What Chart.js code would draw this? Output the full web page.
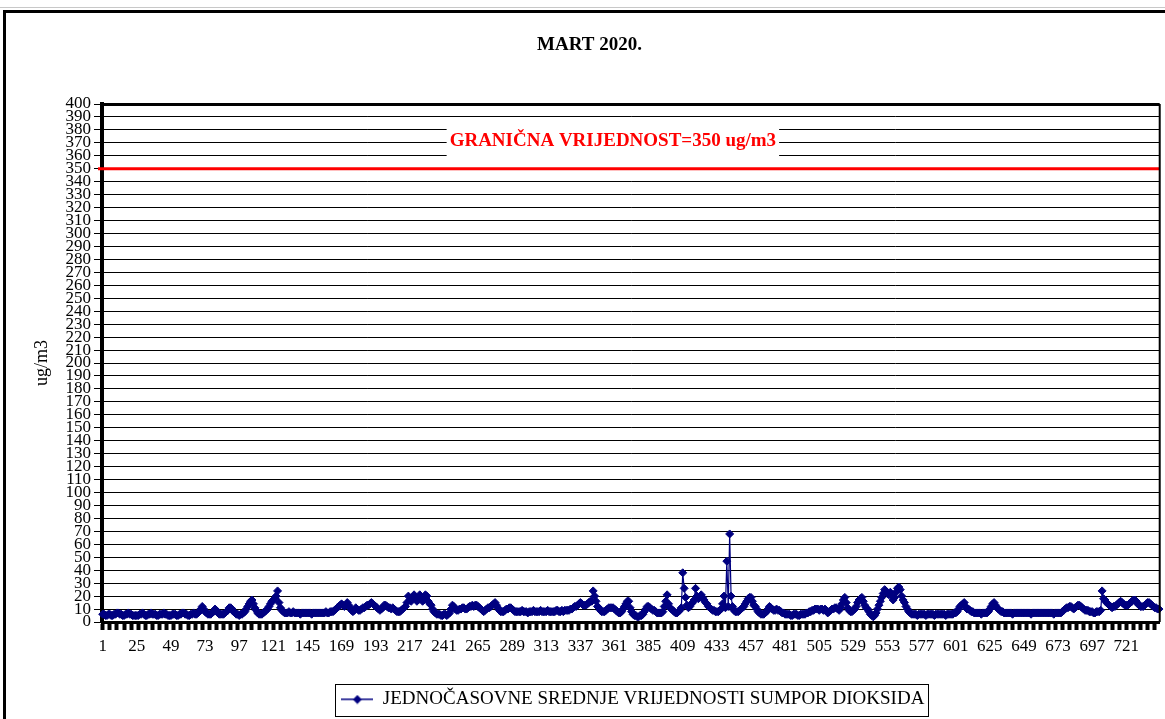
<!DOCTYPE html>
<html><head><meta charset="utf-8">
<script src="https://cdn.jsdelivr.net/npm/chart.js@4.4.1/dist/chart.umd.min.js"></script>
<style>
html,body{margin:0;padding:0;background:#fff;width:1165px;height:719px;overflow:hidden;}
#frame{position:absolute;left:3px;top:10px;width:1200px;height:800px;border:3px solid #000;box-sizing:border-box;}
#topline{position:absolute;left:0;top:7px;width:1165px;height:1px;background:#c8c8c8;}
canvas{position:absolute;left:0;top:0;}
</style></head><body>
<div id="topline"></div>
<div id="frame"></div>
<canvas id="c" width="1165" height="719"></canvas>
<script>
const TITLE = 'MART 2020.';
const SERIES_NAME = 'JEDNOČASOVNE SREDNJE VRIJEDNOSTI SUMPOR DIOKSIDA';
const Y_TITLE = 'ug/m3';
const LIMIT_VALUE = 350;
const LIMIT_LABEL = 'GRANIČNA VRIJEDNOST=350 ug/m3';
const Y_MIN = 0, Y_MAX = 400, Y_STEP = 10;
const X_LABEL_EVERY = 24;
const hours = Array.from({length: 744}, (_, i) => String(i + 1));
const so2 = [
  6,6,5,5,6,6,5,5,6,6,7,7,6,6,5,5,6,6,7,6,6,5,5,5,
  5,5,6,6,7,6,5,5,6,6,7,6,6,6,5,5,6,6,6,7,6,6,5,5,
  5,6,6,6,5,5,6,6,7,7,6,6,5,5,6,6,7,6,6,7,8,10,12,10,
  8,7,6,6,6,7,8,10,9,7,6,6,6,6,7,8,9,11,11,10,8,7,6,6,
  5,6,6,7,8,10,12,14,16,17,14,11,9,7,6,6,6,7,8,9,10,12,14,16,
  17,18,20,24,15,11,9,8,7,7,7,8,7,7,8,7,7,7,7,6,7,7,7,7,
  7,7,7,6,7,7,7,7,7,7,7,7,7,8,7,7,8,8,8,9,10,11,12,13,
  14,13,12,13,15,13,11,9,8,9,11,10,9,9,10,11,11,12,13,13,14,15,14,13,
  12,11,10,9,10,11,13,13,12,11,11,10,11,10,9,8,8,8,9,10,11,12,15,20,
  17,16,18,21,19,16,17,21,18,16,17,21,20,16,14,13,10,8,7,6,6,6,5,5,
  6,6,5,6,7,10,13,12,10,9,9,10,10,11,11,10,10,11,12,12,13,12,13,13,
  12,11,10,9,8,9,10,11,11,12,13,14,15,13,11,9,8,8,8,9,10,10,11,11,
  10,9,8,8,8,8,8,9,8,8,8,7,8,8,8,9,8,8,8,8,9,8,8,8,
  8,9,8,8,8,8,8,9,9,8,8,9,8,9,9,9,9,10,10,11,12,12,13,14,
  15,14,13,13,13,14,15,16,16,24,20,16,12,11,9,8,8,8,9,10,11,11,11,11,
  10,9,8,7,7,8,10,12,14,16,16,11,8,6,5,5,4,4,5,5,6,8,10,12,
  12,11,10,9,9,8,7,7,7,7,8,12,16,21,14,11,10,9,8,7,7,8,9,11,
  38,26,19,13,11,12,14,15,17,26,20,18,19,21,19,17,15,14,12,11,10,9,9,8,
  8,8,9,10,14,20,11,47,12,68,20,12,9,8,8,8,9,10,11,12,14,16,18,19,
  19,16,13,12,10,8,7,6,6,6,7,8,10,12,11,10,9,9,10,9,9,8,7,7,
  6,6,6,6,5,5,6,6,6,5,5,6,6,6,6,7,7,8,8,9,9,10,10,10,
  9,10,10,9,10,9,7,8,9,10,10,11,11,10,9,11,14,17,19,15,11,9,8,8,
  9,10,12,15,17,18,19,16,13,11,10,8,6,5,4,5,7,10,13,16,19,22,25,24,
  22,21,23,20,17,19,23,26,27,25,20,17,15,12,10,8,7,6,6,6,6,5,6,6,
  6,6,6,5,6,6,6,6,6,5,6,6,6,6,6,6,6,5,6,6,6,6,6,7,
  7,8,10,12,13,14,15,12,10,10,9,8,8,7,7,7,7,7,6,7,7,7,7,8,
  10,12,14,15,13,11,10,9,8,8,7,7,7,7,7,7,6,7,7,7,7,7,7,7,
  7,7,7,7,7,6,7,7,7,7,7,7,7,7,7,7,7,7,7,7,7,6,7,7,
  7,7,7,8,9,10,11,11,12,12,11,10,11,12,13,13,12,11,10,9,9,9,8,8,
  8,7,7,8,8,8,9,24,18,17,15,14,13,12,11,12,12,13,14,15,16,15,14,13,
  13,13,14,15,16,17,17,16,14,13,12,12,12,13,14,15,15,14,13,12,11,11,10,10
];

const NAVY = '#000080';
const SERIF = '"Liberation Serif", "Times New Roman", serif';

// legend marker: line with diamond
const marker = document.createElement('canvas');
marker.width = 32; marker.height = 10;
(function(){
  const m = marker.getContext('2d');
  m.fillStyle = NAVY;
  m.fillRect(0, 4, 32, 1.5);
  m.beginPath(); m.moveTo(16, 0.5); m.lineTo(20.5, 5); m.lineTo(16, 9.5); m.lineTo(11.5, 5); m.closePath(); m.fill();
})();

const extras = {
  id: 'extras',
  afterLayout(chart) {
    const lg = chart.legend, a = chart.chartArea;
    if (lg && a) {
      const shift = ((a.left + a.right) / 2 + 2) - (lg.left + lg.right) / 2;
      lg.left += shift; lg.right += shift;
    }
  },
  beforeDatasetsDraw(chart) {
    const {ctx, chartArea: a, scales: {y}} = chart;
    const py = y.getPixelForValue(LIMIT_VALUE);
    ctx.save();
    ctx.font = 'bold 19px ' + SERIF;
    const tw = ctx.measureText(LIMIT_LABEL).width;
    const cx = a.left + (a.right - a.left) * 0.483;
    const yTop = y.getPixelForValue(383), yBot = y.getPixelForValue(357);
    ctx.fillStyle = '#fff';
    ctx.fillRect(cx - tw / 2 - 3, yTop, tw + 6, yBot - yTop);
    ctx.fillStyle = '#ff0000';
    ctx.textAlign = 'center'; ctx.textBaseline = 'middle';
    ctx.fillText(LIMIT_LABEL, cx, y.getPixelForValue(371.5));
    ctx.strokeStyle = '#ff0000'; ctx.lineWidth = 3;
    ctx.beginPath(); ctx.moveTo(a.left - 4, py); ctx.lineTo(a.right, py); ctx.stroke();
    ctx.restore();
  },
  afterDraw(chart) {
    const {ctx, chartArea: a} = chart;
    ctx.save();
    ctx.fillStyle = '#000';
    ctx.fillRect(a.left - 2, a.top - 1, a.right - a.left + 2, 3);
    ctx.fillRect(a.right - 1, a.top, 2, a.bottom - a.top);
    const hb = chart.legend && chart.legend.legendHitBoxes && chart.legend.legendHitBoxes[0];
    if (hb) {
      const cy = hb.top + hb.height / 2;
      ctx.strokeStyle = '#000'; ctx.lineWidth = 1;
      ctx.strokeRect(Math.round(hb.left - 6) + 0.5, Math.round(cy - 16) + 0.5, Math.round(hb.width + 10), 32);
    }
    ctx.restore();
  }
};

new Chart(document.getElementById('c'), {
  type: 'line',
  data: {
    labels: hours,
    datasets: [{
      label: SERIES_NAME,
      data: so2,
      borderColor: NAVY,
      backgroundColor: NAVY,
      borderWidth: 1.2,
      pointStyle: 'rectRot',
      pointRadius: 4,
      pointBackgroundColor: NAVY,
      pointBorderColor: NAVY,
      pointBorderWidth: 1,
      tension: 0,
      fill: false
    }]
  },
  options: {
    responsive: false,
    animation: false,
    devicePixelRatio: 1,
    events: [],
    layout: {padding: {left: 18, right: 4, top: 0, bottom: 0}},
    plugins: {
      title: {
        display: true, text: TITLE, color: '#000',
        font: {family: SERIF, size: 19, weight: 'bold'},
        padding: {top: 33.6, bottom: 47.6}
      },
      legend: {
        display: true, position: 'bottom',
        labels: {
          color: '#000', font: {family: SERIF, size: 19},
          usePointStyle: true, pointStyle: marker, pointStyleWidth: 32,
          padding: 8
        }
      },
      tooltip: {enabled: false}
    },
    scales: {
      x: {
        type: 'category',
        offset: true,
        grid: {
          drawOnChartArea: false, drawTicks: true, tickLength: 8, tickWidth: 4,
          tickColor: (c) => (c.index % 5 === 0 ? '#000' : 'rgba(0,0,0,0)')
        },
        border: {display: true, color: '#000', width: 3},
        ticks: {
          autoSkip: false, maxRotation: 0, minRotation: 0, padding: 6,
          color: '#000', font: {family: SERIF, size: 17},
          callback: (v, i) => (i % X_LABEL_EVERY === 0 ? hours[i] : '')
        },
        afterFit: (s) => { s.height = 60; }
      },
      y: {
        min: Y_MIN, max: Y_MAX,
        grid: {color: '#000', lineWidth: 1, drawTicks: true, tickLength: 8},
        border: {display: true, color: '#000', width: 4},
        ticks: {
          stepSize: Y_STEP, autoSkip: false, maxTicksLimit: 100, padding: 3,
          color: '#000', font: {family: SERIF, size: 17}
        },
        title: {
          display: true, text: Y_TITLE, color: '#000',
          font: {family: SERIF, size: 18}, padding: {top: 13, bottom: 0}
        },
        afterFit: (s) => { s.width = 84; }
      }
    }
  },
  plugins: [extras]
});
</script>
</body></html>
